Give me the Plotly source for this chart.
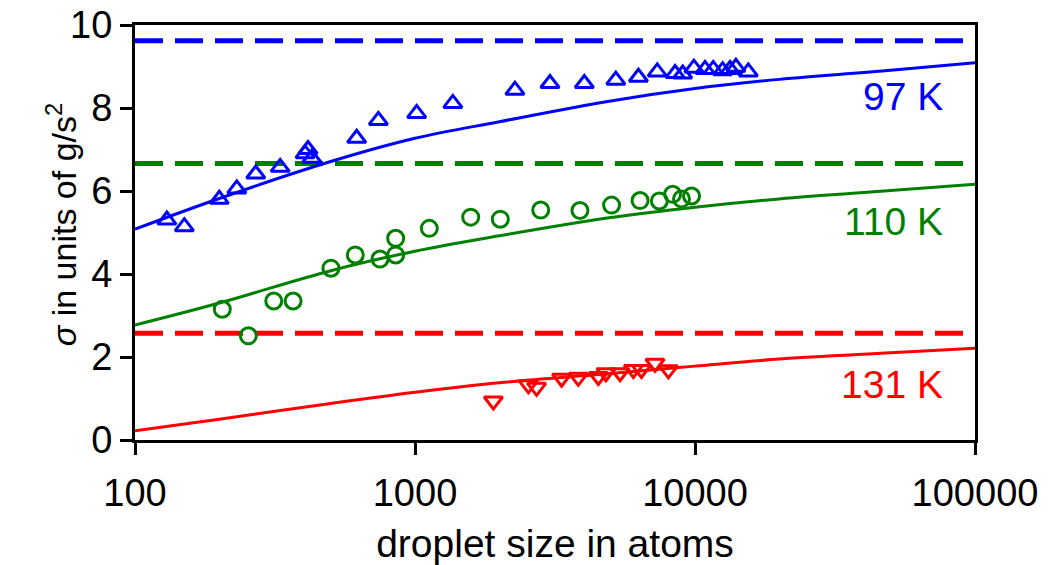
import plotly.graph_objects as go

# ---- data ----
blue_n = [130, 150, 200, 231, 270, 330, 405, 415, 428, 619, 740, 1014, 1365, 2275, 3034,
          4025, 5214, 6280, 7330, 8490, 9040, 9910, 10860, 11620, 12550, 13340, 14000, 15500]
blue_s = [5.30, 5.14, 5.80, 6.05, 6.41, 6.57, 6.90, 7.00, 6.79, 7.27, 7.70, 7.87, 8.11, 8.43, 8.59,
          8.59, 8.67, 8.74, 8.87, 8.83, 8.82, 8.96, 8.93, 8.93, 8.90, 8.93, 8.98, 8.87]

green_n = [205, 254, 313, 367, 501, 612, 750, 853, 853, 1125, 1581, 2017, 2812, 3882,
           5035, 6366, 7460, 8320, 8950, 9720]
green_s = [3.15, 2.51, 3.35, 3.35, 4.14, 4.46, 4.36, 4.86, 4.46, 5.10, 5.37, 5.32, 5.54, 5.53,
           5.66, 5.77, 5.76, 5.92, 5.81, 5.88]

red_n = [1905, 2541, 2718, 3339, 3829, 4515, 4808, 5400, 6025, 6437, 7195, 8036]
red_s = [0.94, 1.33, 1.27, 1.49, 1.51, 1.53, 1.62, 1.62, 1.70, 1.70, 1.85, 1.69]

fit_n = [100, 200, 500, 1000, 2000, 5000, 10000, 20000, 50000, 100000]
fit_blue = [5.08, 5.82, 6.71, 7.27, 7.67, 8.17, 8.47, 8.69, 8.91, 9.09]
fit_green = [2.77, 3.30, 4.08, 4.55, 4.92, 5.36, 5.61, 5.81, 6.01, 6.16]
fit_red = [0.22, 0.50, 0.88, 1.15, 1.38, 1.60, 1.78, 1.95, 2.10, 2.21]

limit_n = [100, 100000]
limit_blue = 9.62
limit_green = 6.66
limit_red = 2.57

labels = ["97 K", "110 K", "131 K"]
label_y = [8.28, 5.26, 1.33]

x_ticks = [100, 1000, 10000, 100000]
x_ticktext = ["100", "1000", "10000", "100000"]
y_ticks = [0, 2, 4, 6, 8, 10]

x_title = "droplet size in atoms"
y_title = "<i>σ</i> in units of g/s<sup>2</sup>"

BLUE = "#0000ff"
GREEN = "#008000"
RED = "#ff0000"
FONT = "Liberation Sans, Arial, sans-serif"

fig = go.Figure()

for lim, col in [(limit_blue, BLUE), (limit_green, GREEN), (limit_red, RED)]:
    fig.add_trace(go.Scatter(x=limit_n, y=[lim, lim], mode="lines",
                             line=dict(color=col, width=5, dash="28px,12px"),
                             showlegend=False, hoverinfo="skip"))

for ys, col in [(fit_blue, BLUE), (fit_green, GREEN), (fit_red, RED)]:
    fig.add_trace(go.Scatter(x=fit_n, y=ys, mode="lines",
                             line=dict(color=col, width=3, shape="spline"),
                             showlegend=False))

fig.add_trace(go.Scatter(x=blue_n, y=blue_s, mode="markers",
                         marker=dict(symbol="triangle-up-open", size=16, color=BLUE,
                                     line=dict(width=3, color=BLUE)),
                         showlegend=False))
fig.add_trace(go.Scatter(x=green_n, y=green_s, mode="markers",
                         marker=dict(symbol="circle-open", size=16, color=GREEN,
                                     line=dict(width=3, color=GREEN)),
                         showlegend=False))
fig.add_trace(go.Scatter(x=red_n, y=red_s, mode="markers",
                         marker=dict(symbol="triangle-down-open", size=16, color=RED,
                                     line=dict(width=3, color=RED)),
                         showlegend=False))

for txt, yv, col in zip(labels, label_y, [BLUE, GREEN, RED]):
    fig.add_annotation(x=0.964, xref="paper", y=yv, yref="y", text=txt, showarrow=False,
                       xanchor="right", yanchor="middle",
                       font=dict(family=FONT, size=39, color=col))

# y-axis title as rotated annotation for exact placement
fig.add_annotation(x=-0.088, xref="paper", y=0.52, yref="paper", text=y_title,
                   showarrow=False, textangle=-90, xanchor="center", yanchor="middle",
                   font=dict(family=FONT, size=34, color="black"))

fig.update_xaxes(type="log", range=[2, 5], tickvals=x_ticks, ticktext=x_ticktext,
                 ticks="outside", ticklen=12, tickwidth=2.5, tickcolor="black",
                 ticklabelstandoff=5, automargin=False,
                 showline=True, linecolor="black", linewidth=3, mirror=True,
                 showgrid=False, zeroline=False,
                 tickfont=dict(family=FONT, size=38, color="black"),
                 title=dict(text=x_title, standoff=18,
                            font=dict(family=FONT, size=39, color="black")))
fig.update_yaxes(range=[0, 10], tickvals=y_ticks, automargin=False,
                 ticks="outside", ticklen=12, tickwidth=2.5, tickcolor="black",
                 showline=True, linecolor="black", linewidth=3, mirror=True,
                 showgrid=False, zeroline=False,
                 tickfont=dict(family=FONT, size=38, color="black"))

fig.update_layout(width=1055, height=565, plot_bgcolor="white", paper_bgcolor="white",
                  margin=dict(l=135, r=80, t=25, b=125), showlegend=False)

fig.write_html("out.html")
